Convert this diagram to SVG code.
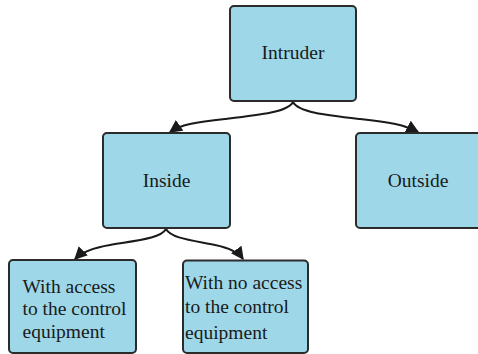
<svg xmlns="http://www.w3.org/2000/svg" width="478" height="354" viewBox="0 0 478 354">
<style>
.box{fill:#9dd7e8;stroke:#2b2b2b;stroke-width:2}
text{font-family:'Liberation Serif','Times New Roman',serif;font-size:19.5px;fill:#1a1a1a}
.c{text-anchor:middle}
.e{fill:none;stroke:#1a1a1a;stroke-width:2}
</style>
<defs>
<marker id="ah" viewBox="0 0 10 10" refX="9" refY="5" markerWidth="6.5" markerHeight="6.5" orient="auto" markerUnits="strokeWidth">
<path d="M0,0 L10,5 L0,10 z" fill="#1a1a1a"/>
</marker>
</defs>
<g id="connectors">
<path class="e" d="M293,102 C288,112 260,115 225,119 C195,122 180,125 170,132" marker-end="url(#ah)"/>
<path class="e" d="M293,102 C298,112 325,115 360,119 C390,122 405,125 418,132" marker-end="url(#ah)"/>
<path class="e" d="M166,229 C161,238 140,240 110,245 C92,248 82,252 75,259" marker-end="url(#ah)"/>
<path class="e" d="M166,229 C171,238 190,240 215,245 C230,248 238,252 243,259" marker-end="url(#ah)"/>
</g>
<g id="intruder">
<rect class="box" x="230" y="6" width="126" height="95" rx="4"/>
<text class="c" x="293" y="59">Intruder</text>
</g>
<g id="inside">
<rect class="box" x="103" y="133" width="127" height="95" rx="4"/>
<text class="c" x="166.5" y="187">Inside</text>
</g>
<g id="outside">
<rect class="box" x="356" y="133" width="128" height="95" rx="4"/>
<text class="c" x="418" y="187">Outside</text>
</g>
<g id="with-access">
<rect class="box" x="9" y="260" width="127" height="93" rx="4"/>
<text x="22.5" y="292.5">With access</text>
<text x="22.5" y="315">to the control</text>
<text x="22.5" y="337.5">equipment</text>
</g>
<g id="without-access">
<rect class="box" x="183" y="260.5" width="125" height="92.5" rx="4"/>
<text x="185" y="288.5">With no access</text>
<text x="185" y="313">to the control</text>
<text x="185" y="339">equipment</text>
</g>
</svg>
